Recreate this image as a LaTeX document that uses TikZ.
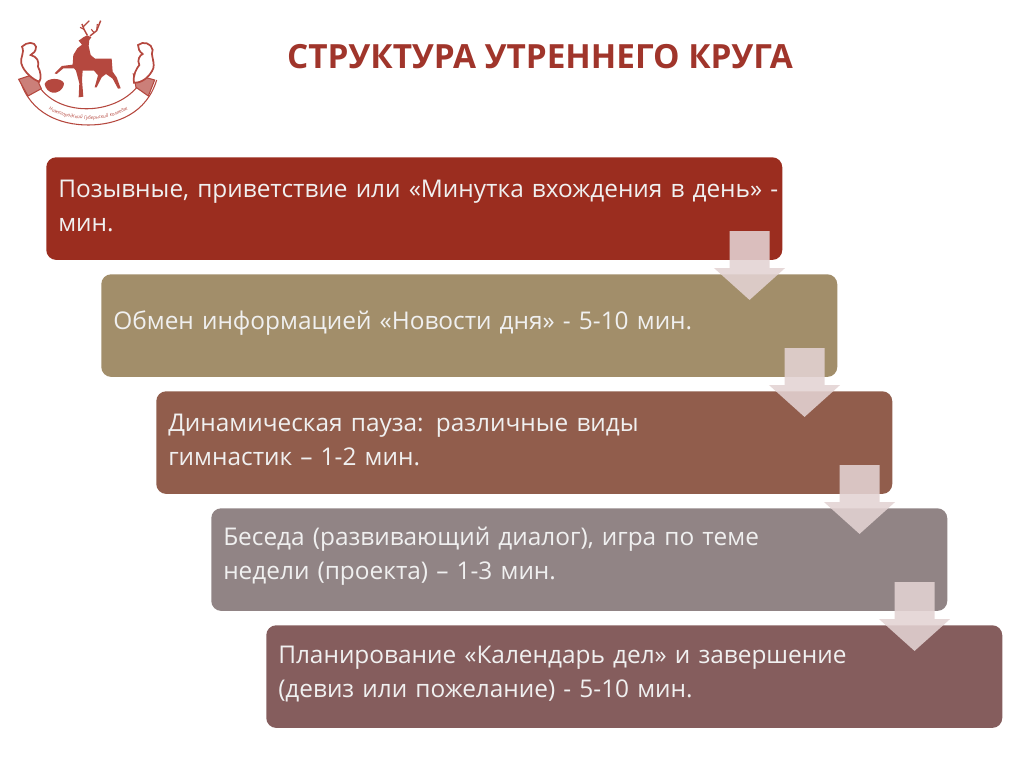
\documentclass[tikz,border=0pt]{standalone}
\usepackage{fontspec}
\setmainfont{Open Sans}
\usepackage{tikz}
\usetikzlibrary{calc,arrows.meta,decorations.text}
\definecolor{titlered}{HTML}{A0352B}
\definecolor{stepred}{HTML}{9B2D1F}
\definecolor{stepsand}{HTML}{A28E6A}
\definecolor{stepbrown}{HTML}{915D4C}
\definecolor{stepgrey}{HTML}{918485}
\definecolor{stepplum}{HTML}{855D5D}
\definecolor{flowpink}{HTML}{E3D3D3}
\definecolor{logored}{HTML}{B5483F}

\begin{document}
\begin{tikzpicture}[
        x=0.75pt, y=-0.75pt,
        % Styles
        stepbox/.style={rectangle, rounded corners=7.5pt, text=white!94!black, align=left, anchor=north west, text width=534pt, inner xsep=9pt, inner ysep=0pt, minimum height=77pt, font=\fontsize{18.3}{25.5}\selectfont, execute at end node=\endgraf\vspace*{4.5pt}},
        flow/.style={-{Triangle[length=24pt,width=52pt]}, line width=30pt, draw=flowpink},
        logoline/.style={draw=logored, line width=0.8pt},
        logofill/.style={fill=logored, draw=none}
    ]
        \useasboundingbox (0,0) rectangle (1024,767);

        % Title
        \node[font=\fontsize{25}{30}\selectfont\bfseries, text=titlered] (title) at (540,57) {СТРУКТУРА УТРЕННЕГО КРУГА};

        % Steps
        \node[stepbox, fill=stepred] (one) at (46,157) {\rlap{Позывные, приветствие или «Минутка вхождения в день» -}\\мин.};
        \node[stepbox, fill=stepsand] (two) at (101,274) {Обмен информацией «Новости дня» - 5-10 мин.};
        \node[stepbox, fill=stepbrown] (three) at (156,391) {Динамическая пауза: различные виды\\гимнастик – 1-2 мин.};
        \node[stepbox, fill=stepgrey] (four) at (211,508) {Беседа (развивающий диалог), игра по теме\\недели (проекта) – 1-3 мин.};
        \node[stepbox, fill=stepplum] (five) at (266,625) {Планирование «Календарь дел» и завершение\\(девиз или пожелание) - 5-10 мин.};

        % Arrows between steps
        \begin{scope}[transparency group, opacity=0.88]
            \draw[flow] ($(one.south east)+(-33,-29)$) -- ($(two.north east)+(-88,26)$);
        \end{scope}
        \begin{scope}[transparency group, opacity=0.88]
            \draw[flow] ($(two.south east)+(-33,-29)$) -- ($(three.north east)+(-88,26)$);
        \end{scope}
        \begin{scope}[transparency group, opacity=0.88]
            \draw[flow] ($(three.south east)+(-33,-29)$) -- ($(four.north east)+(-88,26)$);
        \end{scope}
        \begin{scope}[transparency group, opacity=0.88]
            \draw[flow] ($(four.south east)+(-33,-29)$) -- ($(five.north east)+(-88,26)$);
        \end{scope}

        % Logo
        \begin{scope}[scale=1/3]
            % deer
            \fill[logofill] (236,122) -- (250,112) -- (262,106) -- (274,112) -- (268,120) -- (266,138) -- (272,165) -- (285,176) -- (335,176) -- (338,215) -- (350,232) -- (362,265) -- (354,266) -- (338,236) -- (318,222) -- (305,232) -- (290,262) -- (284,262) -- (294,226) -- (282,212) -- (248,212) -- (246,240) -- (250,290) -- (236,292) -- (238,250) -- (228,212) -- (222,205) -- (190,205) -- (170,222) -- (164,220) -- (186,198) -- (218,194) -- (220,165) -- (232,145) -- (246,134) -- cycle;
            \draw[logoline, line width=1.1pt] (262,106) -- (252,88) -- (246,72);
            \draw[logoline] (252,88) -- (240,82);
            \draw[logoline] (250,80) -- (268,62);
            \draw[logoline, line width=1.1pt] (270,108) -- (290,92) -- (302,62);
            \draw[logoline] (290,92) -- (292,72);
            \draw[logoline] (282,98) -- (274,88);
            % shield
            \fill[logofill] (134,252) .. controls (140,232) and (185,232) .. (192,250) .. controls (190,272) and (170,280) .. (158,278) .. controls (146,276) and (136,266) .. (134,252) -- cycle;
            % ribbon
            \draw[logoline] (112,252) .. controls (170,350) and (340,350) .. (414,258);
            \draw[logoline] (60,240) .. controls (90,340) and (180,375) .. (265,375) .. controls (350,375) and (440,340) .. (470,240);
            \path[postaction={decorate}, decoration={text along path, text align=center, text={|\fontsize{3.6}{5}\itshape\color{logored}|Нижегородский Губернский колледж}}] (118,312) .. controls (165,345) and (215,358) .. (265,358) .. controls (315,358) and (365,345) .. (412,312);
            % ribbon ends
            \draw[logoline, fill=logored!70] (56,238) -- (104,222) -- (124,266) -- (84,288) -- cycle;
            \draw[logoline, fill=logored!70] (400,222) -- (464,240) -- (445,288) -- (408,262) -- cycle;
            \draw[logoline, line width=1.3pt, fill=white] (66,140) .. controls (80,125) and (105,125) .. (108,140) .. controls (108,155) and (100,160) .. (92,165) .. controls (112,170) and (118,185) .. (114,200) .. controls (122,215) and (125,235) .. (118,245) .. controls (100,240) and (70,215) .. (64,190) .. controls (60,170) and (75,160) .. (66,140) -- cycle;
            \draw[logoline, line width=1.3pt, fill=white] (414,135) .. controls (430,122) and (455,130) .. (458,150) .. controls (450,165) and (465,180) .. (460,205) .. controls (450,230) and (425,250) .. (402,248) .. controls (398,225) and (410,205) .. (418,195) .. controls (410,180) and (420,165) .. (428,162) .. controls (418,155) and (414,145) .. (414,135) -- cycle;
        \end{scope}
\end{tikzpicture}
\end{document}
